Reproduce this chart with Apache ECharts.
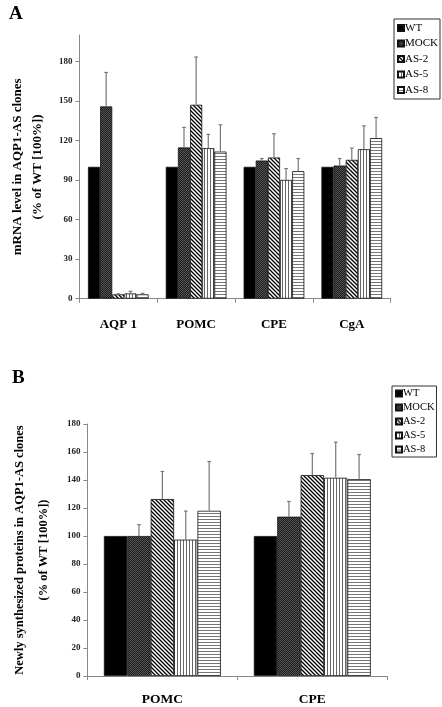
<!DOCTYPE html>
<html>
<head>
<meta charset="utf-8">
<script src="https://cdn.jsdelivr.net/npm/echarts@6/dist/echarts.min.js"></script>
<style>html,body{margin:0;padding:0;background:#fff}#c{width:442px;height:707px}</style>
</head>
<body>
<div id="c"></div>
<script>
// ---------- data ----------
const seriesNames = ['WT', 'MOCK', 'AS-2', 'AS-5', 'AS-8'];

// Panel A: mRNA level
const categoriesA = ['AQP 1', 'POMC', 'CPE', 'CgA'];
const wtA = [100, 100, 100, 100];
const mockA = [145.8, 114.7, 104.8, 101];
const as2A = [3.3, 147.1, 107.1, 105.3];
const as5A = [4, 114.2, 90.1, 113.4];
const as8A = [3.3, 111.6, 96.7, 121.8];
const wtErrA = [0, 0, 0, 0];
const mockErrA = [25.8, 15.2, 1.5, 5.3];
const as2ErrA = [0.4, 36.2, 18, 8.9];
const as5ErrA = [1.6, 10.4, 8.6, 17.7];
const as8ErrA = [0.7, 20.3, 9.6, 15.7];
const ticksA = [0, 30, 60, 90, 120, 150, 180];
const maxA = 200;

// Panel B: newly synthesized proteins
const categoriesB = ['POMC', 'CPE'];
const wtB = [100, 100];
const mockB = [100, 113.8];
const as2B = [126.4, 143.5];
const as5B = [97.4, 141.6];
const as8B = [118, 140.6];
const wtErrB = [0, 0];
const mockErrB = [8.1, 10.9];
const as2ErrB = [19.7, 15.4];
const as5ErrB = [20.4, 25.4];
const as8ErrB = [35.2, 17.6];
const ticksB = [0, 20, 40, 60, 80, 100, 120, 140, 160, 180];
const maxB = 180;

// ---------- patterns ----------
function tile(w, h, draw) {
  const c = document.createElement('canvas');
  c.width = w; c.height = h;
  const g = c.getContext('2d');
  draw(g, w, h);
  return c;
}
const patMock = tile(2, 2, (g) => {
  g.fillStyle = '#1c1c1c'; g.fillRect(0, 0, 2, 2);
  g.fillStyle = '#555'; g.fillRect(0, 0, 1, 1); g.fillRect(1, 1, 1, 1);
});
const patDiag = tile(4, 4, (g) => {
  g.fillStyle = '#fff'; g.fillRect(0, 0, 4, 4);
  g.strokeStyle = '#000'; g.lineWidth = 1.3;
  g.beginPath();
  g.moveTo(-1, -1); g.lineTo(5, 5);
  g.moveTo(-1, 3); g.lineTo(1, 5);
  g.moveTo(3, -1); g.lineTo(5, 1);
  g.stroke();
});
const patVert = tile(3, 3, (g) => {
  g.fillStyle = '#fff'; g.fillRect(0, 0, 3, 3);
  g.fillStyle = '#666'; g.fillRect(0, 0, 1, 3);
});
const patHorz = tile(3, 3, (g) => {
  g.fillStyle = '#fff'; g.fillRect(0, 0, 3, 3);
  g.fillStyle = '#777'; g.fillRect(0, 0, 3, 1);
});
const fills = [
  '#000',
  { image: patMock, repeat: 'repeat' },
  { image: patDiag, repeat: 'repeat' },
  { image: patVert, repeat: 'repeat' },
  { image: patHorz, repeat: 'repeat' }
];

const FONT = '"Liberation Serif", "Times New Roman", serif';
const CAT_GAP = 0.22;

const valuesA = [wtA, mockA, as2A, as5A, as8A];
const errsA = [wtErrA, mockErrA, as2ErrA, as5ErrA, as8ErrA];
const valuesB = [wtB, mockB, as2B, as5B, as8B];
const errsB = [wtErrB, mockErrB, as2ErrB, as5ErrB, as8ErrB];

function barSeries(values, axisIdx) {
  return values.map((vals, k) => ({
    type: 'bar',
    name: seriesNames[k],
    xAxisIndex: axisIdx, yAxisIndex: axisIdx,
    data: vals,
    barGap: '0%',
    barCategoryGap: (CAT_GAP * 100) + '%',
    itemStyle: { color: fills[k], borderColor: '#111', borderWidth: 0.8 },
    emphasis: { disabled: true },
    animation: false
  }));
}
function errSeries(values, errs, axisIdx) {
  return values.map((vals, k) => ({
    type: 'custom',
    name: 'err-' + axisIdx + '-' + k,
    xAxisIndex: axisIdx, yAxisIndex: axisIdx,
    z: 5,
    animation: false,
    data: vals.map((v, i) => [i, v, errs[k][i]]),
    renderItem: function (params, api) {
      const ci = api.value(0), v = api.value(1), e = api.value(2);
      if (!e) return null;
      const base = api.coord([ci, v]);
      const top = api.coord([ci, v + e]);
      const catW = api.size([1, 0])[0];
      const bw = catW * (1 - CAT_GAP) / seriesNames.length;
      const x = base[0] + (k - (seriesNames.length - 1) / 2) * bw;
      const st = { stroke: '#777', lineWidth: 1.2 };
      return {
        type: 'group',
        children: [
          { type: 'line', shape: { x1: x, y1: base[1], x2: x, y2: top[1] }, style: st },
          { type: 'line', shape: { x1: x - 1.8, y1: top[1], x2: x + 1.8, y2: top[1] }, style: st }
        ]
      };
    }
  }));
}

const axisLineStyle = { color: '#888', width: 1 };

const option = {
  backgroundColor: '#fff',
  animation: false,
  title: [
    { text: 'A', left: 4, top: 0, textStyle: { fontFamily: FONT, fontSize: 19, fontWeight: 'bold', color: '#000' } },
    { text: 'B', left: 7, top: 364, textStyle: { fontFamily: FONT, fontSize: 19, fontWeight: 'bold', color: '#000' } }
  ],
  legend: [
    {
      data: seriesNames, orient: 'vertical', left: 394, top: 19,
      icon: 'rect', itemWidth: 6, itemHeight: 6, itemGap: 3.5,
      padding: [3, 2, 3, 3],
      borderColor: '#333', borderWidth: 1,
      textStyle: { fontFamily: FONT, fontSize: 11, color: '#000', lineHeight: 12, padding: [0, 0, 0, -4] },
      selectedMode: false
    },
    {
      data: seriesNames, orient: 'vertical', left: 392, top: 386,
      icon: 'rect', itemWidth: 6, itemHeight: 6, itemGap: 3,
      padding: [2, 2, 2, 3],
      borderColor: '#333', borderWidth: 1,
      textStyle: { fontFamily: FONT, fontSize: 10.5, color: '#000', lineHeight: 11, padding: [0, 0, 0, -4] },
      selectedMode: false
    }
  ],
  grid: [
    { left: 74, top: 35, width: 316.7, height: 263.7 },
    { left: 74, top: 424, width: 313.3, height: 253.3 }
  ],
  xAxis: [
    {
      type: 'category', gridIndex: 0, data: categoriesA,
      axisLine: { lineStyle: axisLineStyle },
      axisTick: { show: true, alignWithLabel: false, length: 4, lineStyle: axisLineStyle },
      axisLabel: { fontFamily: FONT, fontSize: 13, fontWeight: 'bold', color: '#000', margin: 19 }
    },
    {
      type: 'category', gridIndex: 1, data: categoriesB,
      axisLine: { lineStyle: axisLineStyle },
      axisTick: { show: true, alignWithLabel: false, length: 4, lineStyle: axisLineStyle },
      axisLabel: { fontFamily: FONT, fontSize: 13.5, fontWeight: 'bold', color: '#000', margin: 17 }
    }
  ],
  yAxis: [
    {
      type: 'value', gridIndex: 0, min: 0, max: maxA, interval: 30,
      splitLine: { show: false },
      axisLine: { show: true, lineStyle: axisLineStyle },
      axisTick: { show: true, length: 4, lineStyle: axisLineStyle, customValues: ticksA },
      axisLabel: { fontFamily: FONT, fontSize: 9, fontWeight: 'bold', color: '#222', margin: 7, customValues: ticksA },
      name: 'mRNA level in AQP1-AS clones\n(% of WT [100%])',
      nameLocation: 'middle', nameRotate: 90, nameGap: 24,
      nameTextStyle: { fontFamily: FONT, fontSize: 13, fontWeight: 'bold', color: '#000', lineHeight: 20, align: 'center' }
    },
    {
      type: 'value', gridIndex: 1, min: 0, max: maxB, interval: 20,
      splitLine: { show: false },
      axisLine: { show: true, lineStyle: axisLineStyle },
      axisTick: { show: true, length: 4, lineStyle: axisLineStyle, customValues: ticksB },
      axisLabel: { fontFamily: FONT, fontSize: 9, fontWeight: 'bold', color: '#222', margin: 7, customValues: ticksB },
      name: 'Newly synthesized proteins in AQP1-AS clones\n(% of WT [100%])',
      nameLocation: 'middle', nameRotate: 90, nameGap: 29,
      nameTextStyle: { fontFamily: FONT, fontSize: 12.5, fontWeight: 'bold', color: '#000', lineHeight: 24, align: 'center' }
    }
  ],
  series: [].concat(
    barSeries(valuesA, 0), errSeries(valuesA, errsA, 0),
    barSeries(valuesB, 1), errSeries(valuesB, errsB, 1)
  )
};

const chart = echarts.init(document.getElementById('c'), null, { renderer: 'canvas' });
chart.setOption(option);
</script>
</body>
</html>
